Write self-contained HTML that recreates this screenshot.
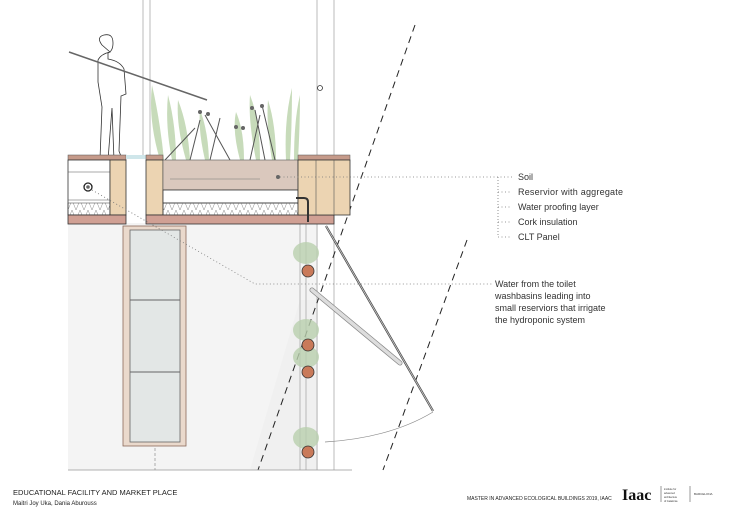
<!DOCTYPE html>
<html><head><meta charset="utf-8"><style>
body{margin:0;background:#fff;}
svg{display:block;font-family:"Liberation Sans",sans-serif;}
</style></head><body>
<svg width="730" height="516" viewBox="0 0 730 516" xmlns="http://www.w3.org/2000/svg">
<defs>
<pattern id="hx" width="8" height="10" patternUnits="userSpaceOnUse">
<path d="M0 0 L4 10 L8 0" fill="none" stroke="#888" stroke-width="0.5"/>
</pattern>
</defs>
<rect x="68" y="223" width="250" height="247" fill="#f4f4f4"/>
<polygon points="250,470 300,300 318,300 318,470" fill="#ececec" opacity="0.6"/>
<line x1="143" y1="0" x2="143" y2="155" stroke="#aaa" stroke-width="0.8"/>
<line x1="150" y1="0" x2="150" y2="155" stroke="#aaa" stroke-width="0.8"/>
<line x1="317" y1="0" x2="317" y2="470" stroke="#aaa" stroke-width="0.8"/>
<line x1="334" y1="0" x2="334" y2="470" stroke="#aaa" stroke-width="0.8"/>
<line x1="300" y1="223" x2="300" y2="470" stroke="#aaa" stroke-width="0.8"/>
<line x1="306" y1="223" x2="306" y2="470" stroke="#aaa" stroke-width="0.8"/>
<circle cx="320" cy="88" r="2.5" fill="#fff" stroke="#333" stroke-width="0.8"/>
<line x1="415" y1="25" x2="258" y2="470" stroke="#222" stroke-width="1" stroke-dasharray="7,5"/>
<line x1="467" y1="240" x2="383" y2="470" stroke="#222" stroke-width="1" stroke-dasharray="7,5"/>
<rect x="123" y="226" width="63" height="220" fill="#ead9cc" stroke="#8a6a5a" stroke-width="0.8"/>
<rect x="130" y="230" width="50" height="212" fill="#e3e7e6" stroke="#666" stroke-width="0.8"/>
<line x1="130" y1="300" x2="180" y2="300" stroke="#666"/>
<line x1="130" y1="372" x2="180" y2="372" stroke="#666"/>
<line x1="68" y1="470" x2="352" y2="470" stroke="#999" stroke-width="0.8"/>
<line x1="155" y1="448" x2="155" y2="470" stroke="#999" stroke-width="0.8" stroke-dasharray="3,2"/>
<g>
<ellipse cx="306" cy="253" rx="13" ry="11" fill="#b9cfae" opacity="0.8"/>
<circle cx="308" cy="271" r="6" fill="#c97a5a" stroke="#333" stroke-width="0.8"/>
<ellipse cx="306" cy="330" rx="13" ry="11" fill="#b9cfae" opacity="0.8"/>
<ellipse cx="306" cy="357" rx="13" ry="11" fill="#b9cfae" opacity="0.8"/>
<circle cx="308" cy="345" r="6" fill="#c97a5a" stroke="#333" stroke-width="0.8"/>
<circle cx="308" cy="372" r="6" fill="#c97a5a" stroke="#333" stroke-width="0.8"/>
<ellipse cx="306" cy="438" rx="13" ry="11" fill="#b9cfae" opacity="0.8"/>
<circle cx="308" cy="452" r="6" fill="#c97a5a" stroke="#333" stroke-width="0.8"/>
</g>
<line x1="326" y1="226" x2="433" y2="411" stroke="#444" stroke-width="2.2"/>
<line x1="326" y1="226" x2="433" y2="411" stroke="#ccc" stroke-width="0.8"/>
<line x1="312" y1="290" x2="400" y2="363" stroke="#888" stroke-width="5" stroke-linecap="round"/>
<line x1="312" y1="290" x2="400" y2="363" stroke="#ddd" stroke-width="3.5" stroke-linecap="round"/>
<path d="M325 442 Q390 438 433 412" fill="none" stroke="#888" stroke-width="0.7"/>
<g fill="#b5d0a4" opacity="0.75">
<path d="M160 160 Q148 120 152 85 Q160 120 164 160 Z"/>
<path d="M172 160 Q165 125 168 95 Q176 125 176 160 Z"/>
<path d="M186 160 Q176 125 178 100 Q188 125 190 160 Z"/>
<path d="M205 160 Q198 130 200 110 Q208 130 209 160 Z"/>
<path d="M240 160 Q232 130 236 112 Q244 130 244 160 Z"/>
<path d="M256 160 Q248 120 250 95 Q260 120 260 160 Z"/>
<path d="M272 160 Q266 125 268 100 Q276 125 276 160 Z"/>
<path d="M286 160 Q284 120 292 88 Q292 125 290 160 Z"/>
<path d="M294 160 Q294 120 300 95 Q300 125 298 160 Z"/>
</g>
<g stroke-width="1">
<path d="M165 160 L195 128 M190 160 L200 120 M210 160 L220 118 M230 160 L205 115 M250 160 L260 115 M265 160 L255 110 M275 160 L262 105" stroke="#555"/>
<circle cx="200" cy="112" r="2" fill="#666"/><circle cx="208" cy="114" r="2" fill="#666"/><circle cx="252" cy="108" r="2" fill="#666"/><circle cx="262" cy="106" r="2" fill="#666"/><circle cx="236" cy="127" r="2" fill="#666"/><circle cx="243" cy="128" r="2" fill="#666"/>
</g>
<g fill="#fff" stroke="#333" stroke-width="0.8">
<path d="M102 45 q-6 -8 2 -10 q9 -2 9 8 q0 8 -5 10 l0 6 q12 2 16 10 l2 25 l-5 2 l-2 55 l3 8 l-8 1 l-2 -52 l-4 52 l-8 -1 l2 -52 l-4 -25 l0 -22 q3 -6 12 -8 z"/>
</g>
<line x1="69" y1="52" x2="207" y2="100" stroke="#666" stroke-width="1.5"/>
<rect x="68" y="155" width="58" height="5" fill="#c59a8a" stroke="#555" stroke-width="0.5"/>
<rect x="68" y="160" width="42" height="55" fill="#fff" stroke="#333" stroke-width="0.8"/>
<line x1="68" y1="172" x2="110" y2="172" stroke="#555" stroke-width="0.6"/>
<line x1="68" y1="200" x2="110" y2="200" stroke="#555" stroke-width="0.6"/>
<rect x="68" y="203" width="42" height="12" fill="url(#hx)" stroke="#333" stroke-width="0.5"/>
<rect x="110" y="160" width="16" height="55" fill="#ecd4b2" stroke="#333" stroke-width="0.8"/>
<circle cx="88" cy="187" r="4" fill="#fff" stroke="#222" stroke-width="1.3"/>
<circle cx="88" cy="187" r="1.8" fill="#666"/>
<rect x="68" y="215" width="58" height="9" fill="#d0a094" stroke="#333" stroke-width="0.8"/>
<rect x="126" y="155" width="20" height="4" fill="#cfe6ea"/>
<rect x="146" y="155" width="17" height="5" fill="#c59a8a" stroke="#555" stroke-width="0.5"/>
<rect x="146" y="160" width="17" height="55" fill="#ecd4b2" stroke="#333" stroke-width="0.8"/>
<rect x="163" y="160" width="135" height="30" fill="#dac8bd" stroke="#555" stroke-width="0.6"/>
<line x1="170" y1="179" x2="260" y2="179" stroke="#777" stroke-width="0.6"/>
<rect x="163" y="190" width="135" height="13" fill="#fff" stroke="#333" stroke-width="0.8"/>
<rect x="163" y="203" width="135" height="12" fill="url(#hx)" stroke="#333" stroke-width="0.5"/>
<rect x="146" y="215" width="188" height="9" fill="#d0a094" stroke="#333" stroke-width="0.8"/>
<rect x="298" y="155" width="52" height="5" fill="#c59a8a" stroke="#555" stroke-width="0.5"/>
<rect x="298" y="160" width="52" height="55" fill="#ecd4b2" stroke="#333" stroke-width="0.8"/>
<line x1="316" y1="160" x2="316" y2="215" stroke="#555" stroke-width="0.6"/>
<line x1="334" y1="160" x2="334" y2="215" stroke="#555" stroke-width="0.6"/>
<path d="M296 198 h8 q4 0 4 4 v20" fill="none" stroke="#333" stroke-width="2"/>
<circle cx="278" cy="177" r="2" fill="#666"/>
<line x1="280" y1="177" x2="512" y2="177" stroke="#777" stroke-width="0.8" stroke-dasharray="1,2.5"/>
<line x1="498" y1="177" x2="498" y2="237" stroke="#777" stroke-width="0.8" stroke-dasharray="1,2"/>
<g stroke="#777" stroke-width="0.8" stroke-dasharray="1,2.5">
<line x1="498" y1="192" x2="512" y2="192"/><line x1="498" y1="207" x2="512" y2="207"/><line x1="498" y1="222" x2="512" y2="222"/><line x1="498" y1="237" x2="512" y2="237"/>
<polyline points="92,190 255,284 492,284" fill="none"/>
</g>
<g font-size="9" fill="#333">
<text x="518" y="180">Soil</text>
<text x="518" y="195" textLength="105">Reservior with aggregate</text>
<text x="518" y="210">Water proofing layer</text>
<text x="518" y="225">Cork insulation</text>
<text x="518" y="240">CLT Panel</text>
<text x="495" y="287">Water from the toilet</text>
<text x="495" y="299">washbasins leading into</text>
<text x="495" y="311">small reserviors that irrigate</text>
<text x="495" y="323">the hydroponic system</text>
</g>
<text x="13" y="495" font-size="7.5" fill="#222">EDUCATIONAL FACILITY AND MARKET PLACE</text>
<text x="13" y="505" font-size="6" fill="#222">Maitri Joy Uka, Dania Aburouss</text>
<text x="467" y="500" font-size="5" fill="#222">MASTER IN ADVANCED ECOLOGICAL BUILDINGS 2019, IAAC</text>
<text x="622" y="500" font-size="16" font-weight="bold" font-family="Liberation Serif,serif" fill="#111">Iaac</text>
<line x1="661" y1="486" x2="661" y2="502" stroke="#333" stroke-width="0.5"/>
<g font-size="2.5" fill="#333"><text x="664" y="490">institute for</text><text x="664" y="494">advanced</text><text x="664" y="498">architecture</text><text x="664" y="502">of Catalonia</text></g>
<line x1="690" y1="486" x2="690" y2="502" stroke="#333" stroke-width="0.5"/>
<text x="694" y="495" font-size="3" fill="#333">BARCELONA</text>
</svg>
</body></html>
